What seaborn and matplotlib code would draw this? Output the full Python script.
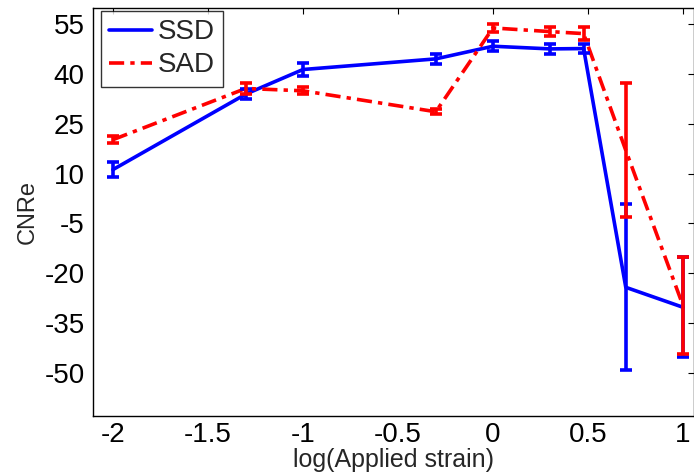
import numpy as np
import pandas as pd
import matplotlib
matplotlib.use("Agg")
import matplotlib.pyplot as plt
import seaborn as sns
from matplotlib.lines import Line2D

x_vals = [-2.0, -1.301, -1.0, -0.301, 0.0, 0.301, 0.477, 0.699, 1.0]
ssd_mean = [11.2, 33.9, 41.3, 44.5, 48.3, 47.5, 47.6, -24.2, -30.2]
ssd_err = [2.2, 1.6, 2.0, 1.4, 1.5, 1.4, 1.3, 25.0, 15.0]
sad_mean = [20.2, 35.6, 34.9, 28.6, 53.8, 52.7, 52.1, 17.0, -29.7]
sad_err = [1.0, 1.6, 1.0, 0.8, 1.2, 1.3, 2.0, 20.2, 14.6]
x_ticks = [-2, -1.5, -1, -0.5, 0, 0.5, 1]
x_ticklabels = ["-2", "-1.5", "-1", "-0.5", "0", "0.5", "1"]
y_ticks = [55, 40, 25, 10, -5, -20, -35, -50]

df = pd.DataFrame({
    "x": x_vals * 2,
    "y": ssd_mean + sad_mean,
    "err": ssd_err + sad_err,
    "method": ["SSD"] * len(x_vals) + ["SAD"] * len(x_vals),
})

sns.set_style("white")
plt.rcParams["font.family"] = ["Liberation Sans", "DejaVu Sans"]
plt.rcParams["axes.unicode_minus"] = False

fig = plt.figure(figsize=(6.94, 4.75), dpi=100)
ax = fig.add_axes([93 / 694, 1 - 416 / 475, 1 - 93 / 694, (416 - 8) / 475])

colors = {"SSD": (0, 0, 1), "SAD": (1, 0, 0)}
lw = 2.6
dash = (4.2, 1.7, 1.2, 1.7)
sns.lineplot(data=df, x="x", y="y", hue="method", style="method",
             palette=colors, dashes={"SSD": "", "SAD": dash},
             linewidth=lw, ax=ax, legend=False, sort=False,
             hue_order=["SSD", "SAD"], estimator=None)

for m in ["SSD", "SAD"]:
    d = df[df["method"] == m]
    ax.errorbar(d["x"], d["y"], yerr=d["err"], fmt="none", ecolor=colors[m],
                elinewidth=lw, capsize=4, capthick=lw)

handles = [Line2D([], [], color=(0, 0, 1), lw=lw),
           Line2D([], [], color=(1, 0, 0), lw=lw, dashes=dash)]
leg = ax.legend(handles, ["SSD", "SAD"], loc="upper left",
                bbox_to_anchor=(8 / 601, 1 - 3 / 408), borderaxespad=0,
                fontsize=20, frameon=True, fancybox=False, edgecolor="black",
                handlelength=1.55, handletextpad=0.2, borderpad=0.3,
                labelspacing=0.25)
leg.get_frame().set_linewidth(1.0)

ax.set_xlim(-2.105, 1.058)
ax.set_ylim(-62.9, 59.8)
ax.set_xticks(x_ticks)
ax.set_xticklabels(x_ticklabels)
ax.set_yticks(y_ticks)
ax.tick_params(direction="in", length=4, width=0.8, labelsize=20,
               top=True, right=True, colors="black", pad=6)
ax.tick_params(axis="x", pad=4)
for s in ax.spines.values():
    s.set_color("black")
    s.set_linewidth(1.0)
ax.set_xlabel("log(Applied strain)", fontsize=18, labelpad=0)
ax.set_ylabel("CNRe", fontsize=17, labelpad=4)

fig.savefig("out.png", dpi=100)
